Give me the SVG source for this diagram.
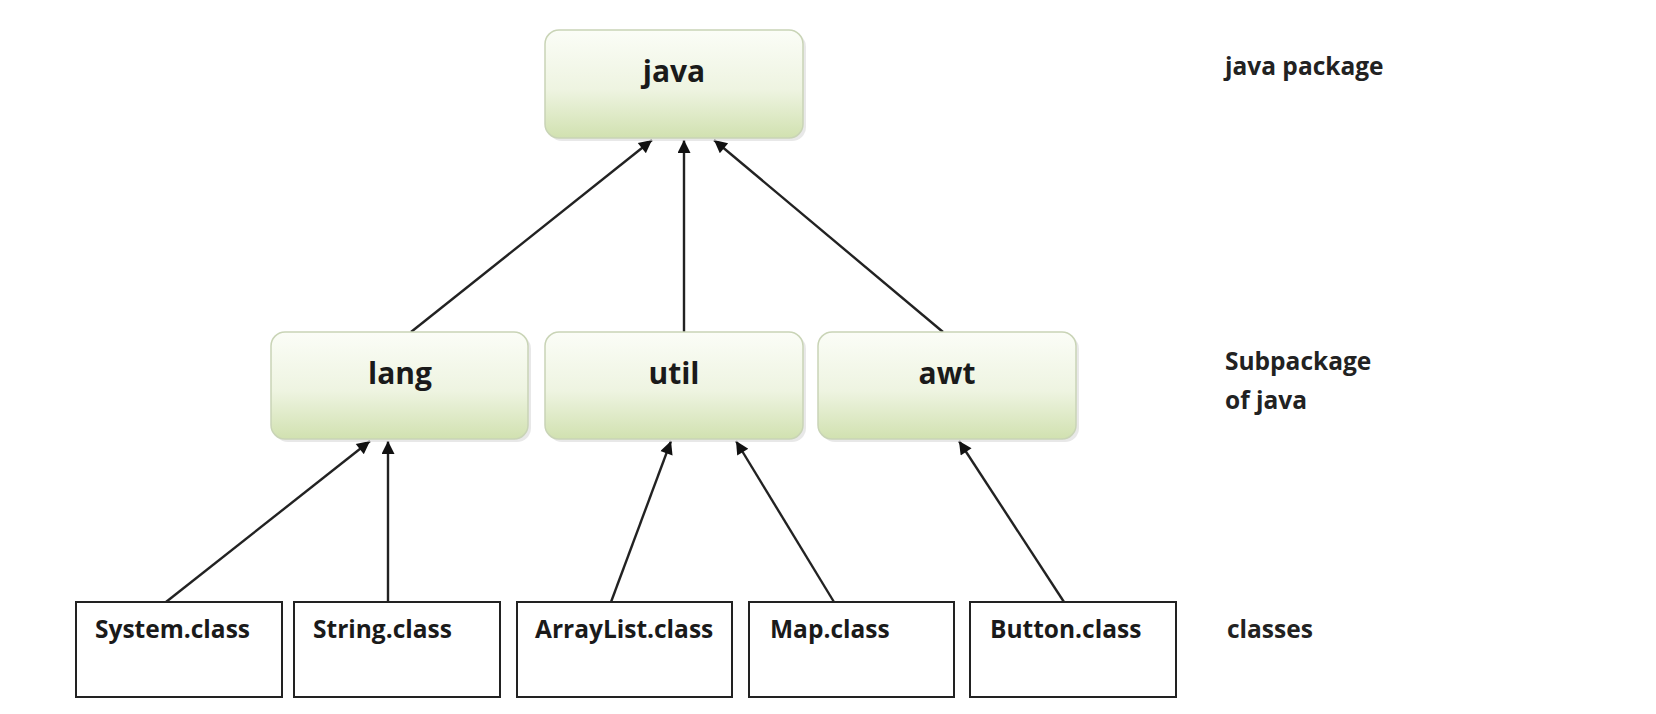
<svg xmlns="http://www.w3.org/2000/svg" width="1656" height="714" viewBox="0 0 1656 714">
<defs>
<style>
.pkg{fill:url(#g);stroke:#c9d4b6;stroke-width:1.5}
.sh{fill:#d8d8d8;opacity:0.6}
.cls{fill:#fff;stroke:#222;stroke-width:2}
.t{font-family:"Open Sans","Liberation Sans",sans-serif;font-weight:700;fill:#1a1a1a}
.big{font-size:30px;text-anchor:middle}
.sm{font-size:24.5px}
.lab{font-size:24.5px;font-weight:700;fill:#222}
.c{stroke:#222;stroke-width:2.4;fill:none;marker-end:url(#a)}
</style>
<linearGradient id="g" x1="0" y1="0" x2="0" y2="1">
<stop offset="0" stop-color="#fbfdf7"/>
<stop offset="0.55" stop-color="#eef4e1"/>
<stop offset="1" stop-color="#d1e1b0"/>
</linearGradient>
<marker id="a" viewBox="0 0 10 10" refX="10" refY="5" markerWidth="16" markerHeight="13" markerUnits="userSpaceOnUse" orient="auto">
<path d="M0,0 L10,5 L0,10 z" fill="#111"/>
</marker>
</defs>
<rect width="1656" height="714" fill="#fff"/>
<g id="connectors">
<line class="c" x1="411" y1="332" x2="652" y2="140"/>
<line class="c" x1="684" y1="332" x2="684" y2="140"/>
<line class="c" x1="943" y1="332" x2="714" y2="140"/>
<line class="c" x1="166" y1="602" x2="370" y2="441"/>
<line class="c" x1="388" y1="602" x2="388" y2="441"/>
<line class="c" x1="611" y1="602" x2="671" y2="441"/>
<line class="c" x1="834" y1="602" x2="736" y2="441"/>
<line class="c" x1="1064" y1="602" x2="959" y2="441"/>
</g>
<g id="java">
<rect class="sh" x="548" y="33" width="258" height="108" rx="14"/>
<rect class="pkg" x="545" y="30" width="258" height="108" rx="14"/>
<text class="t big" x="674" y="82">java</text>
</g>
<g id="lang">
<rect class="sh" x="274" y="335" width="257" height="107" rx="14"/>
<rect class="pkg" x="271" y="332" width="257" height="107" rx="14"/>
<text class="t big" x="400" y="384">lang</text>
</g>
<g id="util">
<rect class="sh" x="548" y="335" width="258" height="107" rx="14"/>
<rect class="pkg" x="545" y="332" width="258" height="107" rx="14"/>
<text class="t big" x="674" y="384">util</text>
</g>
<g id="awt">
<rect class="sh" x="821" y="335" width="258" height="107" rx="14"/>
<rect class="pkg" x="818" y="332" width="258" height="107" rx="14"/>
<text class="t big" x="947" y="384">awt</text>
</g>
<g id="system">
<rect class="cls" x="76" y="602" width="206" height="95"/>
<text class="t sm" x="95" y="638">System.class</text>
</g>
<g id="string">
<rect class="cls" x="294" y="602" width="206" height="95"/>
<text class="t sm" x="313" y="638">String.class</text>
</g>
<g id="arraylist">
<rect class="cls" x="517" y="602" width="215" height="95"/>
<text class="t sm" x="535" y="638">ArrayList.class</text>
</g>
<g id="map">
<rect class="cls" x="749" y="602" width="205" height="95"/>
<text class="t sm" x="770" y="638">Map.class</text>
</g>
<g id="button">
<rect class="cls" x="970" y="602" width="206" height="95"/>
<text class="t sm" x="990" y="638">Button.class</text>
</g>
<g id="labels">
<text class="t lab" x="1225" y="75">java package</text>
<text class="t lab" x="1225" y="370">Subpackage</text>
<text class="t lab" x="1225" y="409">of java</text>
<text class="t lab" x="1227" y="638">classes</text>
</g>
</svg>
